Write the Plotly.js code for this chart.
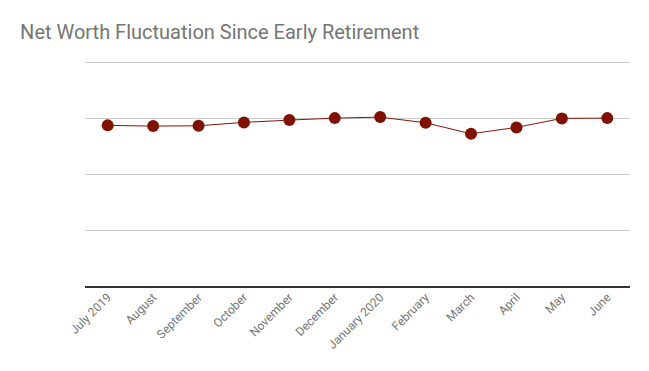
<!DOCTYPE html>
<html>
<head>
<meta charset="utf-8">
<script src="https://cdn.plot.ly/plotly-3.0.1.min.js"></script>
<style>html,body{margin:0;padding:0;background:#fff}#chart{width:649px;height:371px}</style>
</head>
<body>
<div id="chart"></div>
<script>
const months = ["July 2019","August","September","October","November","December","January 2020","February","March","April","May","June"];
const netWorth = [2.875, 2.862, 2.868, 2.928, 2.969, 3.004, 3.022, 2.921, 2.725, 2.839, 2.999, 3.004];
const yTicks = [0, 1, 2, 3, 4];

const trace = {
  x: months,
  y: netWorth,
  type: 'scatter',
  mode: 'lines+markers',
  line: {color: '#8b1405', width: 1},
  marker: {color: '#7f1100', size: 12},
  hoverinfo: 'x+y'
};

const layout = {
  width: 649, height: 371,
  margin: {l: 85, r: 19, t: 61, b: 84},
  paper_bgcolor: '#fff', plot_bgcolor: '#fff',
  showlegend: false,
  title: {text: 'Net Worth Fluctuation Since Early Retirement', x: 0.031, xanchor: 'left', y: 0.915, yanchor: 'middle',
          font: {family: 'Roboto, sans-serif', size: 20, color: '#757575'}},
  xaxis: {
    type: 'category', range: [-0.5, 11.5],
    tickangle: -45, showgrid: false, zeroline: false,
    showline: false, ticks: '',
    tickfont: {family: 'Roboto, sans-serif', size: 12, color: '#757575'}
  },
  yaxis: {
    range: [0, 4.02], tickvals: yTicks, showticklabels: false,
    showgrid: true, gridcolor: '#cccccc', gridwidth: 1,
    zeroline: true, zerolinecolor: '#333', zerolinewidth: 1.2,
    ticks: ''
  }
};

Plotly.newPlot('chart', [trace], layout, {displayModeBar: false, staticPlot: true});
</script>
</body>
</html>
